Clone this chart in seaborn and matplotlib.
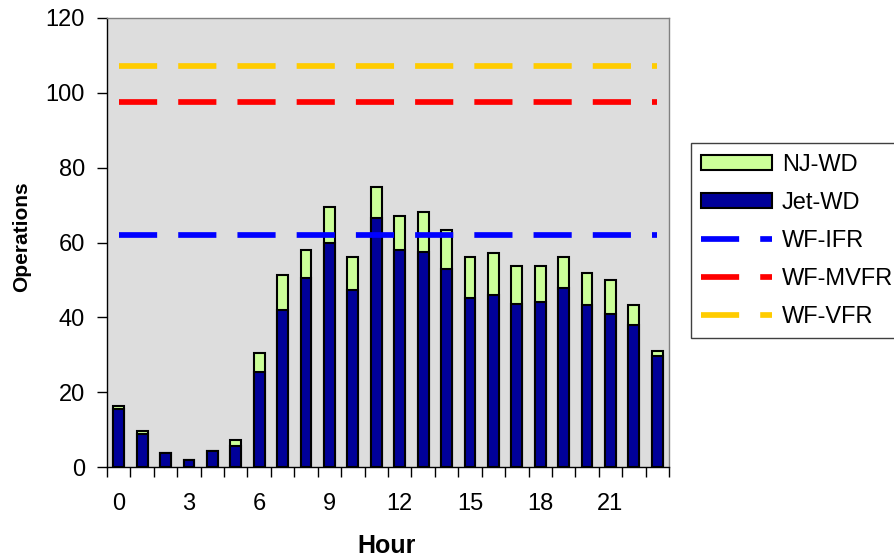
import matplotlib
matplotlib.use("Agg")
import matplotlib.pyplot as plt
from matplotlib.patches import Patch
from matplotlib.lines import Line2D
import seaborn as sns
import pandas as pd

# Hourly operations by category
hours = list(range(24))
jet_wd = [15.4, 8.8, 3.7, 1.8, 4.2, 5.6, 25.3, 42.0, 50.4, 59.9, 47.4, 66.6,
          58.0, 57.5, 52.8, 45.1, 46.0, 43.6, 44.0, 47.9, 43.2, 40.8, 37.9, 29.6]
nj_wd = [0.8, 0.7, 0.0, 0.0, 0.0, 1.5, 5.3, 9.3, 7.7, 9.6, 8.7, 8.3,
         9.2, 10.6, 10.5, 11.0, 11.1, 10.1, 9.7, 8.2, 8.6, 9.1, 5.3, 1.5]

# Weather-dependent capacity thresholds
threshold_names = ["WF-IFR", "WF-MVFR", "WF-VFR"]
threshold_values = [62.0, 97.5, 107.2]
threshold_colors = ["#0000FF", "#FF0000", "#FFCC00"]

tick_hours = [0, 3, 6, 9, 12, 15, 18, 21]

sns.set_theme(style="white")
plt.rcParams["font.family"] = ["Liberation Sans", "DejaVu Sans"]
plt.rcParams["text.color"] = "black"
plt.rcParams["xtick.color"] = "black"
plt.rcParams["ytick.color"] = "black"
plt.rcParams["axes.labelcolor"] = "black"

df = pd.DataFrame({"hour": hours, "jet": jet_wd, "nj": nj_wd})
df["total"] = df["jet"] + df["nj"]

fig = plt.figure(figsize=(8.95, 5.59), dpi=100)
fig.patch.set_facecolor("white")
ax = fig.add_axes([107 / 895, 92 / 559, 562 / 895, 449 / 559])
ax.set_facecolor("#DDDDDD")

green = "#CCFF99"
navy = "#000099"
bar_w = 0.46
edge_w = 1.5

sns.barplot(data=df, x="hour", y="total", color=green, saturation=1,
            edgecolor="black", linewidth=edge_w, width=bar_w, ax=ax, zorder=2)
sns.barplot(data=df, x="hour", y="jet", color=navy, saturation=1,
            edgecolor="black", linewidth=edge_w, width=bar_w, ax=ax, zorder=3)

dash_pattern = (6.7, 3.7)
line_w = 4.1
for name, val, col in zip(threshold_names, threshold_values, threshold_colors):
    sns.lineplot(x=[hours[0], hours[-1]], y=[val, val], color=col,
                 linewidth=line_w, ax=ax, zorder=4)
    ln = ax.lines[-1]
    ln.set_dashes(dash_pattern)
    ln.set_dash_capstyle("butt")

ax.set_xlim(-0.5, 23.5)
ax.set_ylim(0, 120)
ax.set_yticks([0, 20, 40, 60, 80, 100, 120])
ax.set_xticks(tick_hours)
ax.set_xticklabels([str(h) for h in tick_hours])
ax.set_xticks([i - 0.5 for i in range(25)], minor=True)

ax.tick_params(axis="y", which="major", direction="out", length=7, width=1,
               color="black", labelcolor="black", pad=9, labelsize=17,
               left=True)
ax.tick_params(axis="x", which="major", length=0, pad=19, labelsize=17,
               labelcolor="black", bottom=True)
ax.tick_params(axis="x", which="minor", direction="out", length=7, width=1,
               color="black", bottom=True)

for side in ("left", "bottom"):
    ax.spines[side].set_color("black")
    ax.spines[side].set_linewidth(1)
for side in ("top", "right"):
    ax.spines[side].set_color("#808080")
    ax.spines[side].set_linewidth(1)

ax.set_xlabel("")
ax.set_ylabel("")
fig.text(22 / 895, 1 - 237 / 559, "Operations", rotation=90, fontsize=15,
         fontweight="bold", ha="center", va="center", color="black")
fig.text(387 / 895, 1 - 546 / 559, "Hour", fontsize=18, fontweight="bold",
         ha="center", va="center", color="black")

handles = [
    Patch(facecolor=green, edgecolor="black", linewidth=edge_w, label="NJ-WD"),
    Patch(facecolor=navy, edgecolor="black", linewidth=edge_w, label="Jet-WD"),
]
for name, col in zip(threshold_names, threshold_colors):
    h = Line2D([0], [1], color=col, linewidth=line_w, label=name)
    h.set_dashes(dash_pattern)
    h.set_dash_capstyle("butt")
    handles.append(h)

leg = fig.legend(handles=handles, loc="upper left",
                 bbox_to_anchor=(690.7 / 895, 1 - 143 / 559),
                 bbox_transform=fig.transFigure, fontsize=17,
                 handlelength=3.0, handleheight=0.64, handletextpad=0.42,
                 borderpad=0.45, borderaxespad=0, labelspacing=0.68,
                 frameon=True, fancybox=False, framealpha=1)
leg.get_frame().set_edgecolor("#404040")
leg.get_frame().set_linewidth(1)
leg.get_frame().set_facecolor("white")
for t in leg.get_texts():
    t.set_color("black")

fig.savefig("out.png", dpi=100, facecolor="white")
